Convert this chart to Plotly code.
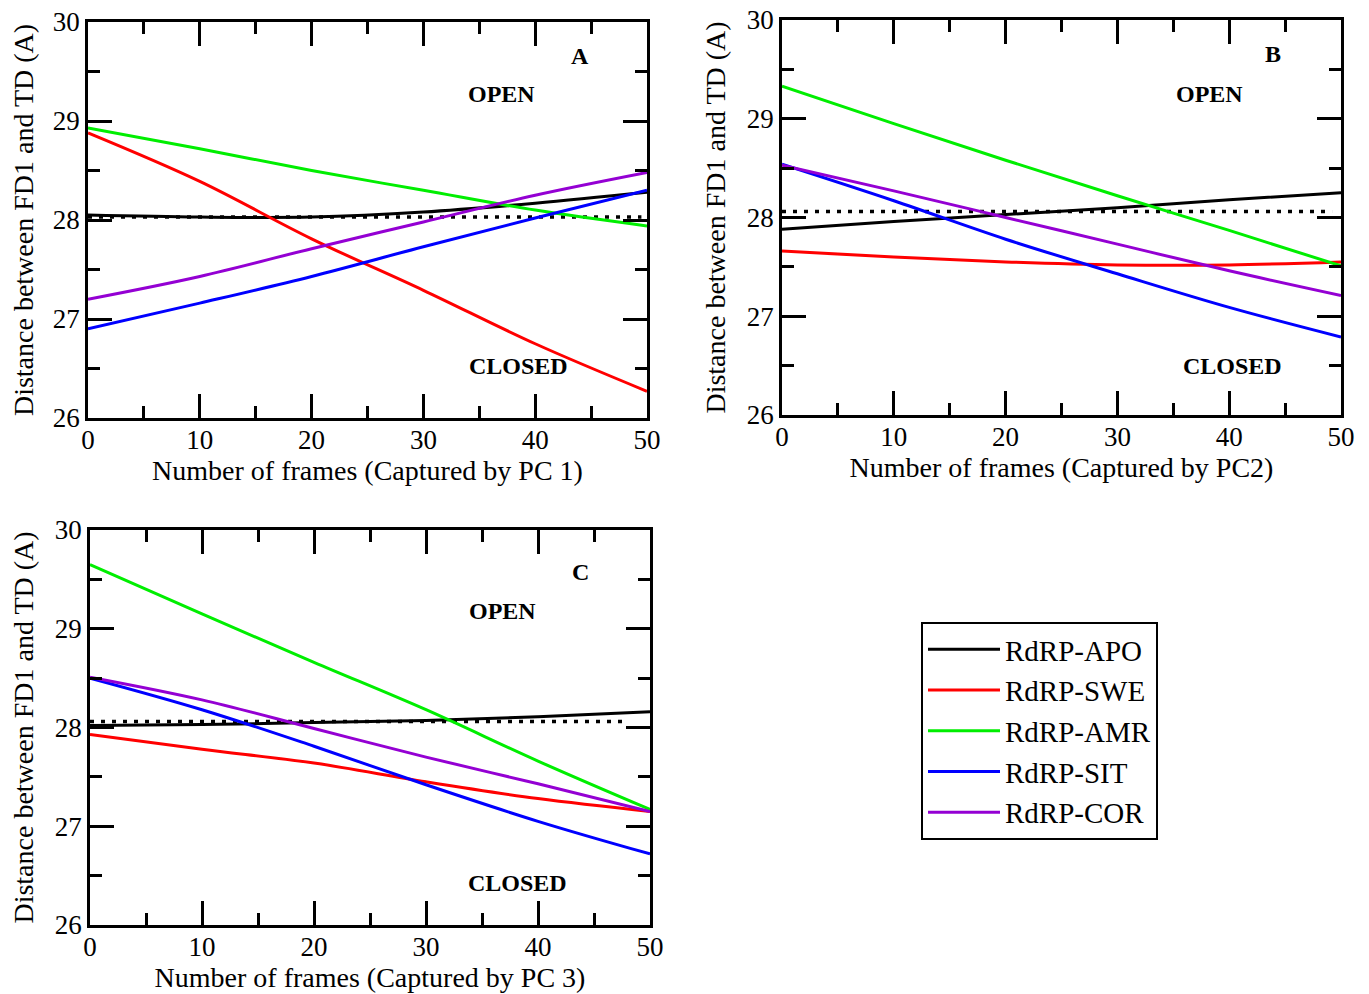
import plotly.graph_objects as go

# ---------------- data ----------------
frames = [0, 10, 20, 30, 40, 50]
series_names = ["RdRP-APO", "RdRP-SWE", "RdRP-AMR", "RdRP-SIT", "RdRP-COR"]
series_colors = ["#000000", "#ff0000", "#00ee00", "#0000ff", "#9400d3"]

# Panel A (PC 1)
pc1_apo = [28.05, 28.03, 28.03, 28.08, 28.17, 28.28]
pc1_swe = [28.88, 28.39, 27.81, 27.29, 26.75, 26.27]
pc1_amr = [28.93, 28.72, 28.50, 28.30, 28.10, 27.94]
pc1_sit = [26.90, 27.16, 27.43, 27.73, 28.02, 28.30]
pc1_cor = [27.20, 27.43, 27.71, 27.98, 28.25, 28.48]

# Panel B (PC 2)
pc2_apo = [27.88, 27.96, 28.03, 28.10, 28.18, 28.25]
pc2_swe = [27.66, 27.60, 27.55, 27.52, 27.52, 27.55]
pc2_amr = [29.33, 28.95, 28.58, 28.22, 27.87, 27.51]
pc2_sit = [28.54, 28.17, 27.78, 27.43, 27.09, 26.79]
pc2_cor = [28.53, 28.27, 28.00, 27.73, 27.46, 27.21]

# Panel C (PC 3)
pc3_apo = [28.02, 28.03, 28.05, 28.07, 28.11, 28.16]
pc3_swe = [27.93, 27.78, 27.64, 27.45, 27.28, 27.15]
pc3_amr = [29.65, 29.15, 28.66, 28.18, 27.66, 27.17]
pc3_sit = [28.50, 28.18, 27.81, 27.42, 27.05, 26.72]
pc3_cor = [28.51, 28.28, 27.99, 27.70, 27.43, 27.15]

# dotted reference level (x start/end, y level) per panel
ref_x = [[0, 49.5], [0, 49.2], [0, 47.8]]
ref_y = [28.03, 28.06, 28.06]

panel_letters = ["A", "B", "C"]
x_titles = ["Number of frames (Captured by PC 1)",
            "Number of frames (Captured by PC2)",
            "Number of frames (Captured by PC 3)"]
y_title = "Distance between FD1 and TD (A)"
x_ticks = [0, 10, 20, 30, 40, 50]
y_ticks = [26, 27, 28, 29, 30]

panels = [
    [pc1_apo, pc1_swe, pc1_amr, pc1_sit, pc1_cor],
    [pc2_apo, pc2_swe, pc2_amr, pc2_sit, pc2_cor],
    [pc3_apo, pc3_swe, pc3_amr, pc3_sit, pc3_cor],
]

# ---------------- figure ----------------
OFF = 8                      # page body margin of the html page
W, H = 1369 - OFF, 994 - OFF
FONT = "Liberation Serif, Times New Roman, serif"


def fx(px):
    return (px - OFF) / W


def fy(py):
    return 1 - (py - OFF) / H


# plot-area pixel boxes in the window (left, right, top, bottom)
boxes = [(88, 647, 22, 418), (782, 1341, 20, 415), (90, 650, 530, 925)]
letter_pos = [(44.0, 29.66), (43.9, 29.66), (43.8, 29.57)]
open_pos = [(37.0, 29.27), (38.2, 29.25), (36.8, 29.18)]
closed_pos = [(38.5, 26.53), (40.3, 26.50), (38.2, 26.43)]

fig = go.Figure()

for p, data in enumerate(panels):
    xa = "x" if p == 0 else f"x{p+1}"
    ya = "y" if p == 0 else f"y{p+1}"
    # dotted reference line
    fig.add_trace(go.Scatter(
        x=ref_x[p], y=[ref_y[p], ref_y[p]], mode="lines",
        line=dict(color="black", width=3.5, dash="4px,7px"),
        showlegend=False, hoverinfo="skip", xaxis=xa, yaxis=ya))
    for i, vals in enumerate(data):
        fig.add_trace(go.Scatter(
            x=frames, y=vals, mode="lines", name=series_names[i],
            line=dict(color=series_colors[i], width=3, shape="spline"),
            showlegend=(p == 0), xaxis=xa, yaxis=ya))

layout = dict(
    width=W, height=H,
    margin=dict(l=0, r=0, t=0, b=0, autoexpand=False),
    paper_bgcolor="white", plot_bgcolor="white",
    font=dict(family=FONT, color="black", size=27),
    legend=dict(
        x=fx(921), y=fy(622), xanchor="left", yanchor="top",
        bordercolor="black", borderwidth=2, bgcolor="white",
        font=dict(family=FONT, size=29, color="black"),
        itemwidth=72, tracegroupgap=0,
    ),
    annotations=[],
)

for p, (l, r, t, b) in enumerate(boxes):
    xk = "xaxis" if p == 0 else f"xaxis{p+1}"
    yk = "yaxis" if p == 0 else f"yaxis{p+1}"
    ya = "y" if p == 0 else f"y{p+1}"
    xa = "x" if p == 0 else f"x{p+1}"
    layout[xk] = dict(
        domain=[fx(l), fx(r)], anchor=ya, range=[0, 50], automargin=False,
        tickvals=x_ticks, ticks="inside", ticklen=24, tickwidth=2.5,
        tickcolor="black", showline=True, linecolor="black", linewidth=2.5,
        mirror="allticks", showgrid=False, zeroline=False,
        tickfont=dict(family=FONT, size=27), ticklabeloverflow="allow",
        ticklabelstandoff=-4,
        minor=dict(dtick=5, tick0=0, ticks="inside", ticklen=12, tickwidth=2.5,
                   tickcolor="black", showgrid=False),
        title=dict(text=x_titles[p], font=dict(family=FONT, size=28), standoff=0),
        fixedrange=True,
    )
    layout[yk] = dict(
        domain=[fy(b), fy(t)], anchor=xa, range=[26, 30], automargin=False,
        tickvals=y_ticks, ticks="inside", ticklen=24, tickwidth=2.5,
        tickcolor="black", showline=True, linecolor="black", linewidth=2.5,
        mirror="allticks", showgrid=False, zeroline=False,
        tickfont=dict(family=FONT, size=27), ticklabeloverflow="allow",
        minor=dict(dtick=0.5, tick0=26, ticks="inside", ticklen=12, tickwidth=2.5,
                   tickcolor="black", showgrid=False),
        title=dict(text=y_title, font=dict(family=FONT, size=28), standoff=14),
        fixedrange=True,
    )
    for txt, (ax_, ay_) in [(panel_letters[p], letter_pos[p]),
                            ("OPEN", open_pos[p]), ("CLOSED", closed_pos[p])]:
        layout["annotations"].append(dict(
            text=f"<b>{txt}</b>", x=ax_, y=ay_, xref=xa, yref=ya,
            showarrow=False, font=dict(family=FONT, size=24, color="black")))

fig.update_layout(**layout)
fig.write_html("out.html")
